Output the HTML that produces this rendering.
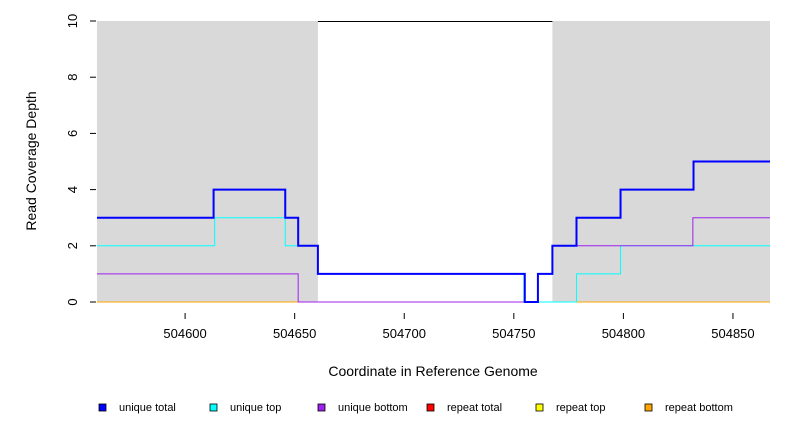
<!DOCTYPE html>
<html><head><meta charset="utf-8"><style>
body{margin:0;background:#fff;font-family:"Liberation Sans",sans-serif}
</style></head><body>
<svg id="c" width="792" height="432" xmlns="http://www.w3.org/2000/svg" font-family="Liberation Sans, sans-serif"></svg>
<script>
const xTicks=[504600,504650,504700,504750,504800,504850];
const yTicks=[0,2,4,6,8,10];
const grayRegions=[[504559.8,504660.6],[504767.6,504866.9]];
const uniqueTotalX=[504559.8,504613,504645.7,504651.6,504660.6,504755,504761,504767.6,504778.6,504798.7,504832,504866.9];
const uniqueTotalY=[3,4,3,2,1,0,1,2,3,4,5];
const uniqueTopX=[504559.8,504613.5,504645.7,504660.6,504754.6,504761,504778.6,504798.7,504866.9];
const uniqueTopY=[2,3,2,1,0,0,1,2];
const uniqueBottomX=[504559.8,504651.6,504761,504767.6,504831.7,504866.9];
const uniqueBottomY=[1,0,1,2,3];
const legendLabels=["unique total","unique top","unique bottom","repeat total","repeat top","repeat bottom"];
const legendColors=["#0000ff","#00ffff","#a020f0","#ff0000","#ffff00","#ffa500"];
const X0=504559.8,X1=504866.9,PL=97,PR=770,PT=21,PB=302;
const sx=v=>PL+(v-X0)/(X1-X0)*(PR-PL);
const sy=v=>PB-v/10*(PB-PT);
const svg=document.getElementById('c');
const NS="http://www.w3.org/2000/svg";
function mk(t,a,parent){const e=document.createElementNS(NS,t);for(const k in a)e.setAttribute(k,a[k]);(parent||svg).appendChild(e);return e;}
grayRegions.forEach((r,i)=>{
 const e=mk('rect',{x:sx(r[0]),y:PT,width:sx(r[1])-sx(r[0]),height:PB-PT,fill:'#d9d9d9'});
 
 
});
const topLine=mk('line',{x1:sx(grayRegions[0][1]),x2:sx(grayRegions[1][0]),y1:PT+0.5,y2:PT+0.5,stroke:'#000'});


function step(xs,ys,color,w,name){
 let d='M'+sx(xs[0])+','+sy(ys[0]);
 for(let i=0;i<ys.length;i++){d+=' H'+sx(xs[i+1]);if(i+1<ys.length)d+=' V'+sy(ys[i+1]);}
 const p=mk('path',{d:d,fill:'none',stroke:color,'stroke-width':w});
 
 
}
const ob=mk('line',{x1:PL,x2:PR,y1:sy(0),y2:sy(0),stroke:'#ffa500','stroke-width':1});


step(uniqueTopX,uniqueTopY,'#00ffff',1,'unique-top-line');
step(uniqueBottomX,uniqueBottomY,'#a020f0',1,'unique-bottom-line');
step(uniqueTotalX,uniqueTotalY,'#0000ff',2,'unique-total-line');
xTicks.forEach(v=>{
 const t=mk('line',{x1:sx(v),x2:sx(v),y1:PB+11,y2:PB+17,stroke:'#000'});
 
 
 const l=mk('text',{x:sx(v),y:338,'text-anchor':'middle','font-size':13});l.textContent=v;
 
 
});
yTicks.forEach(v=>{
 const t=mk('line',{x1:90,x2:96,y1:sy(v),y2:sy(v),stroke:'#000'});
 
 
 const l=mk('text',{x:0,y:0,'text-anchor':'middle','font-size':13,transform:`translate(77,${sy(v)}) rotate(-90)`});l.textContent=v;
 
 
});
const xt=mk('text',{x:433,y:376,'text-anchor':'middle','font-size':14});xt.textContent='Coordinate in Reference Genome';


const yt=mk('text',{x:0,y:0,'text-anchor':'middle','font-size':14,transform:'translate(36,161) rotate(-90)'});yt.textContent='Read Coverage Depth';


const legX=[99,210,318,427,536,645];
legendLabels.forEach((s,i)=>{
 const g=mk('g',{});
 
 
 mk('rect',{x:legX[i],y:404,width:7,height:7,fill:legendColors[i],stroke:'#000','stroke-width':0.8},g);
 const t=mk('text',{x:legX[i]+20,y:411,'font-size':11},g);t.textContent=s;
});
</script>
</body></html>
